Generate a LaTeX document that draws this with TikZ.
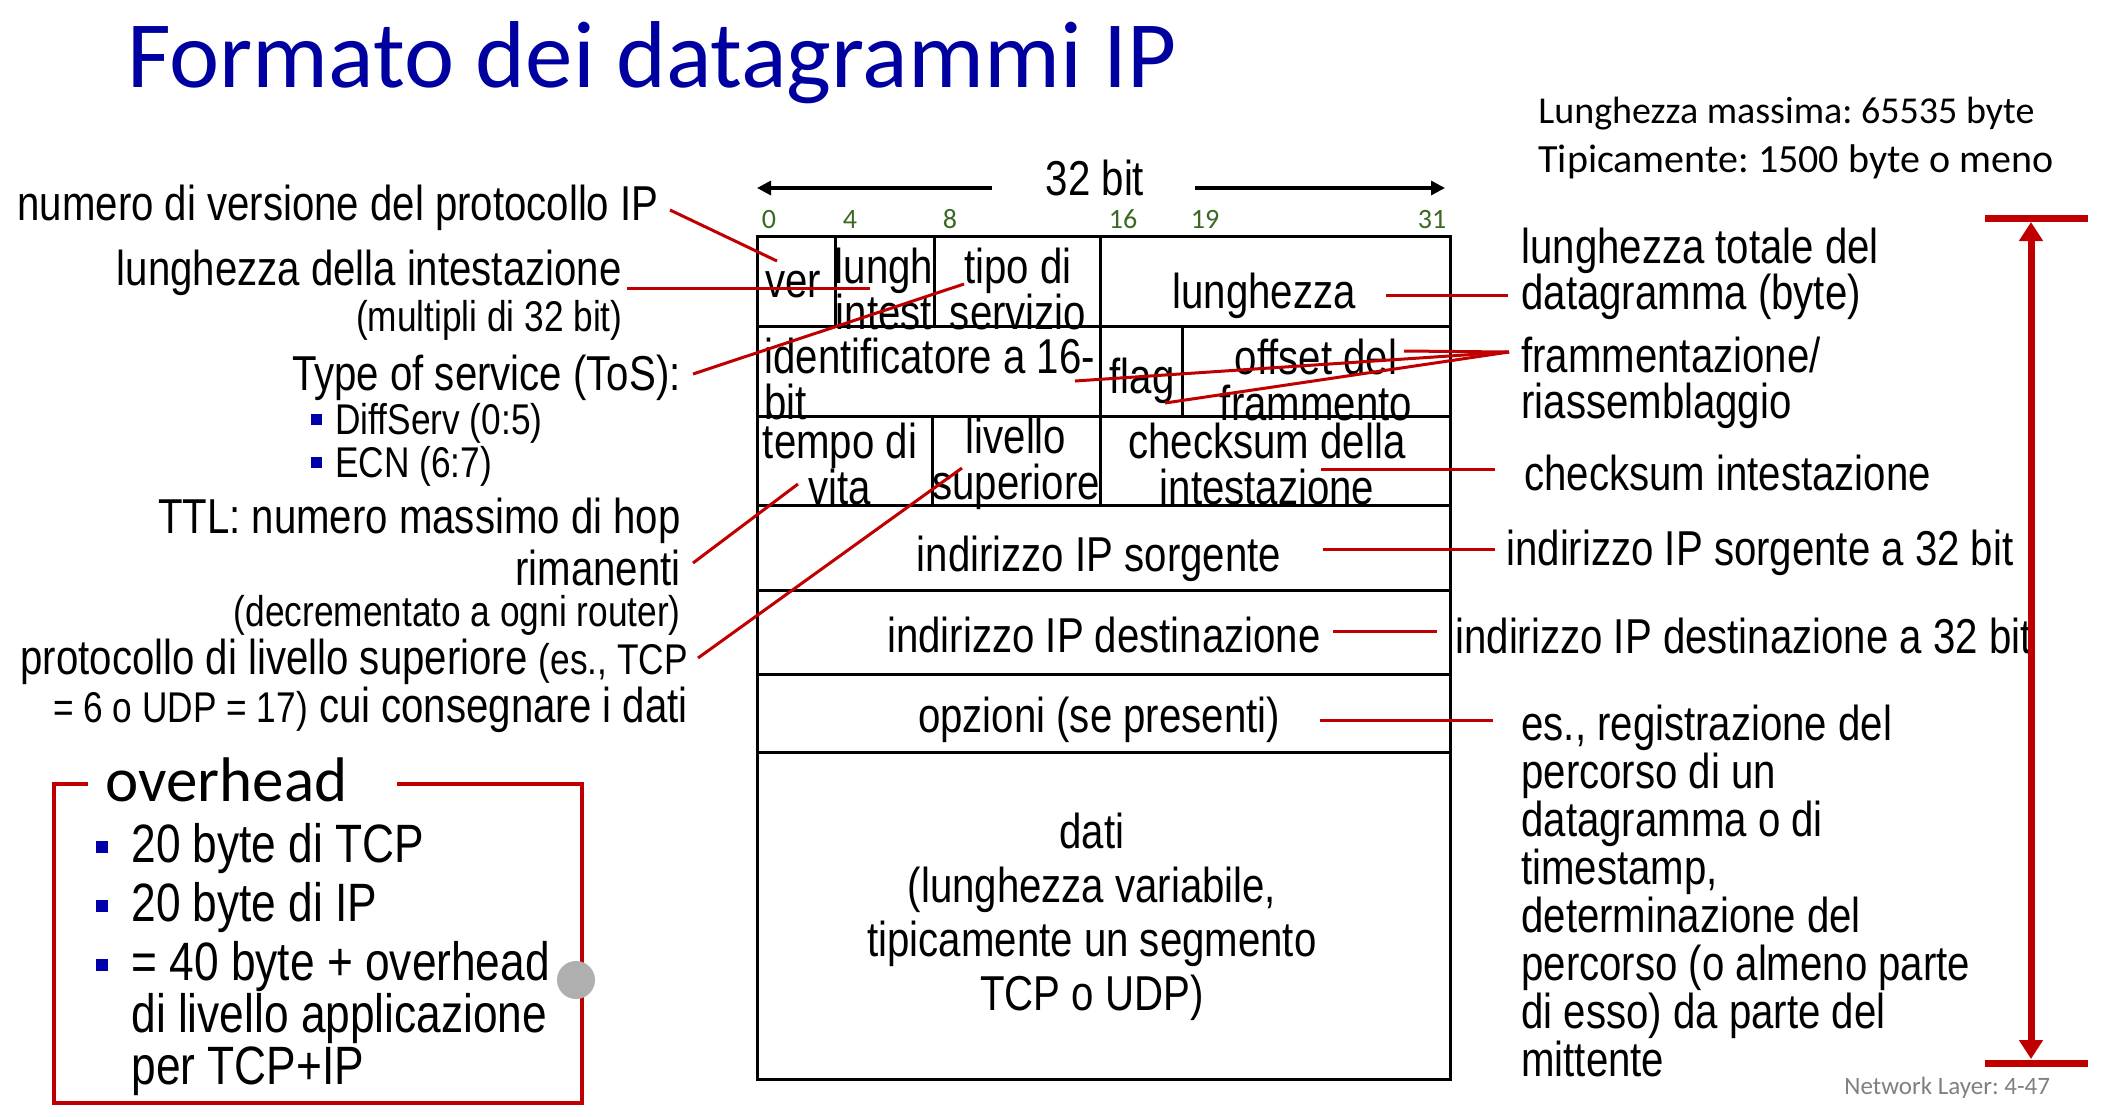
\documentclass[tikz,border=0pt]{standalone}
\usepackage{fontspec}
\usetikzlibrary{arrows.meta}
\newfontfamily\narrowfont[FakeStretch=0.82]{Liberation Sans}
\newfontfamily\slidefont{Carlito}
\newcommand\lblsmall{\fontsize{21.5}{23.5}\selectfont}
\frenchspacing
\definecolor{slidered}{RGB}{192,0,0}
\definecolor{titleblue}{RGB}{0,0,160}
\definecolor{bulletblue}{RGB}{0,0,170}
\definecolor{bitgreen}{RGB}{59,104,35}
\definecolor{footgray}{RGB}{128,128,128}
\definecolor{dotgray}{RGB}{175,175,175}
\tikzset{
  lbl/.style={inner sep=0pt, yshift=-2pt, font=\narrowfont\fontsize{24.5}{23}\selectfont},
  slbl/.style={inner sep=0pt, yshift=-2pt, font=\narrowfont\fontsize{21.5}{23.5}\selectfont},
  biglbl/.style={inner sep=0pt, yshift=-1pt, font=\narrowfont\fontsize{27}{26}\selectfont},
  bitnum/.style={inner sep=0pt, font=\slidefont\fontsize{14}{14}\selectfont, text=bitgreen},
  tbl/.style={draw=black, line width=1.5pt},
  pointer/.style={draw=slidered, line width=1.5pt},
  sqbullet/.style={fill=bulletblue, inner sep=0pt, minimum size=5.5pt},
  bigsq/.style={fill=bulletblue, inner sep=0pt, minimum size=6pt},
  widthpointer/.style={draw=black, line width=1.6pt, -{Triangle[width=7pt,length=7pt]}},
  span/.style={draw=slidered, line width=3.5pt},
}
\begin{document}
\begin{tikzpicture}[x=0.5pt,y=-0.5pt]
\useasboundingbox (0,0) rectangle (2101,1116);

% heading and size notes
\node[anchor=base west, inner sep=0pt, font=\slidefont\fontsize{47.5}{48}\selectfont, text=titleblue]
  (title) at (127,87) {Formato dei datagrammi IP};
\node[anchor=base west, inner sep=0pt, font=\slidefont\fontsize{19}{19}\selectfont]
  (maxlen) at (1538,123) {Lunghezza massima: 65535 byte};
\node[anchor=base west, inner sep=0pt, font=\slidefont\fontsize{20}{20}\selectfont]
  (typlen) at (1538,172) {Tipicamente: 1500 byte o meno};

% word width
\node[lbl] (wbits) at (1095,174) {32 bit};
\coordinate (wl0) at (992,188);
\coordinate (wl1) at (757,188);
\coordinate (wr0) at (1195,188);
\coordinate (wr1) at (1445,188);
\draw[widthpointer] (wl0) -- (wl1);
\draw[widthpointer] (wr0) -- (wr1);

% bit offsets
\node[bitnum] (bit0) at (769,219) {0};
\node[bitnum] (bit4) at (850,219) {4};
\node[bitnum] (bit8) at (950,219) {8};
\node[bitnum] (bit16) at (1123,219) {16};
\node[bitnum] (bit19) at (1205,219) {19};
\node[bitnum] (bit31) at (1432,219) {31};

% header grid
\draw[tbl] (757,236) rectangle (1450,1079);
\foreach \yy in {326,416,505,590,674,752} \draw[tbl] (757,\yy) -- (1450,\yy);
\draw[tbl] (835,236) -- (835,326);
\draw[tbl] (934,236) -- (934,326);
\draw[tbl] (1100,236) -- (1100,505);
\draw[tbl] (1182,326) -- (1182,416);
\draw[tbl] (932,416) -- (932,505);

% field names
\node[lbl] (fver) at (793,281) {ver};
\node[lbl, align=center] (fihl) at (884,285) {lungh\\intest};
\node[lbl, align=center] (ftos) at (1018,285) {tipo di\\servizio};
\node[lbl] (flen) at (1264,292) {lunghezza};
\node[lbl, align=left, anchor=west] (fid) at (764,375) {identificatore a 16-\\bit};
\node[lbl] (fflag) at (1142,377) {flag};
\node[lbl, align=center] (foff) at (1316,376) {offset del\\frammento};
\node[lbl, align=center] (fttl) at (840,460) {tempo di\\vita};
\node[lbl, align=center] (fproto) at (1016,460) {livello\\superiore};
\node[lbl, align=center] (fcks) at (1267,460) {checksum della\\intestazione};
\node[lbl] (fsrc) at (1099,555) {indirizzo IP sorgente};
\node[lbl] (fdst) at (1104,631) {indirizzo IP destinazione};
\node[lbl] (fopt) at (1099,716) {opzioni (se presenti)};
\node[lbl, align=center, font=\narrowfont\fontsize{24.5}{27}\selectfont] (fdata) at (1092,913)
  {dati\\(lunghezza variabile,\\tipicamente un segmento\\TCP o UDP)};

% notes on the left
\node[lbl, anchor=east] (nver) at (659,204) {numero di versione del protocollo IP};
\node[lbl, anchor=east] (nihl) at (622,269) {lunghezza della intestazione};
\node[slbl, anchor=east] (nihl2) at (623,316) {(multipli di 32 bit)};
\node[lbl, anchor=east] (ntos) at (681,374) {Type of service (ToS):};
\node[sqbullet] (ntosb1) at (316,419) {};
\node[slbl, anchor=west] (ntos1) at (335,419) {DiffServ (0:5)};
\node[sqbullet] (ntosb2) at (316,462) {};
\node[slbl, anchor=west] (ntos2) at (335,462) {ECN (6:7)};
\node[lbl, anchor=east] (nttl) at (681,517) {TTL: numero massimo di hop};
\node[lbl, anchor=east] (nttl2) at (681,564) {rimanenti};
\node[slbl, anchor=east] (nttl3) at (681,611) {(decrementato a ogni router)};
\node[lbl, anchor=east] (nproto) at (688,658) {protocollo di livello superiore {\lblsmall(es., TCP}};
\node[lbl, anchor=east] (nproto2) at (688,706) {{\lblsmall= 6 o UDP = 17)} cui consegnare i dati};

% notes on the right
\node[lbl, anchor=west, align=left] (nlen) at (1521,270) {lunghezza totale del\\datagramma (byte)};
\node[lbl, anchor=west, align=left] (nfrag) at (1521,379) {frammentazione/\\riassemblaggio};
\node[lbl, anchor=west] (ncks) at (1524,469) {checksum intestazione};
\node[lbl, anchor=west] (nsrc) at (1506,549) {indirizzo IP sorgente a 32 bit};
\node[lbl, anchor=west] (ndst) at (1455,632) {indirizzo IP destinazione a 32 bit};
\node[lbl, anchor=west, align=left, font=\narrowfont\fontsize{24.5}{24}\selectfont] (nopt) at (1521,887)
  {es., registrazione del\\percorso di un\\datagramma o di\\timestamp,\\determinazione del\\percorso (o almeno parte\\di esso) da parte del\\mittente};

% pointer ends
\coordinate (pver0) at (670,210);   \coordinate (pver1) at (777,261);
\coordinate (pihl0) at (627,288);   \coordinate (pihl1) at (870,288);
\coordinate (ptos0) at (693,374);   \coordinate (ptos1) at (964,284);
\coordinate (pttl0) at (693,563);   \coordinate (pttl1) at (798,484);
\coordinate (ppro0) at (698,658);   \coordinate (ppro1) at (962,468);
\coordinate (plen0) at (1386,295);  \coordinate (plen1) at (1508,295);
\coordinate (pfrag) at (1509,352);
\coordinate (pfoff) at (1404,351);
\coordinate (pfid) at (1075,381);
\coordinate (pfflag) at (1165,403);
\coordinate (pcks0) at (1321,469);  \coordinate (pcks1) at (1495,469);
\coordinate (psrc0) at (1323,549);  \coordinate (psrc1) at (1495,549);
\coordinate (pdst0) at (1333,631);  \coordinate (pdst1) at (1437,631);
\coordinate (popt0) at (1320,720);  \coordinate (popt1) at (1493,720);

\draw[pointer] (pver0) -- (pver1);
\draw[pointer] (pihl0) -- (pihl1);
\draw[pointer] (ptos0) -- (ptos1);
\draw[pointer] (pttl0) -- (pttl1);
\draw[pointer] (ppro0) -- (ppro1);
\draw[pointer] (plen0) -- (plen1);
\draw[pointer] (pfoff) -- (pfrag);
\draw[pointer] (pfid) -- (pfrag);
\draw[pointer] (pfflag) -- (pfrag);
\draw[pointer] (pcks0) -- (pcks1);
\draw[pointer] (psrc0) -- (psrc1);
\draw[pointer] (pdst0) -- (pdst1);
\draw[pointer] (popt0) -- (popt1);

% overall length marker
\coordinate (spTL) at (1985,218); \coordinate (spTR) at (2088,218);
\coordinate (spBL) at (1985,1063); \coordinate (spBR) at (2088,1063);
\coordinate (spT) at (2031,222); \coordinate (spB) at (2031,1059);
\draw[span] (spTL) -- (spTR);
\draw[span] (spBL) -- (spBR);
\draw[span, {Triangle[width=11.5pt,length=9.5pt]}-{Triangle[width=11.5pt,length=9.5pt]}] (spT) -- (spB);

% overhead box
\coordinate (ohA) at (88,784);
\coordinate (ohB) at (54,784);
\coordinate (ohC) at (54,1103);
\coordinate (ohD) at (582,1103);
\coordinate (ohE) at (582,784);
\coordinate (ohF) at (397,784);
\draw[draw=slidered, line width=2pt, line join=miter] (ohA) -- (ohB) -- (ohC) -- (ohD) -- (ohE) -- (ohF);
\node[anchor=base west, inner sep=0pt, font=\slidefont\fontsize{31.5}{31.5}\selectfont] (ohtitle) at (105,801) {overhead};
\node[bigsq] (ohb1) at (102,847) {};
\node[biglbl, anchor=west] (oh1) at (131,847) {20 byte di TCP};
\node[bigsq] (ohb2) at (102,906) {};
\node[biglbl, anchor=west] (oh2) at (131,906) {20 byte di IP};
\node[bigsq] (ohb3) at (102,965) {};
\node[biglbl, anchor=west, align=left] (oh3) at (131,1017) {= 40 byte + overhead\\di livello applicazione\\per TCP+IP};
\node[circle, fill=dotgray, inner sep=0pt, minimum size=19pt] (dot) at (576,980) {};

% page footer
\node[anchor=west, inner sep=0pt, font=\slidefont\fontsize{12.5}{12.5}\selectfont, text=footgray] (foot) at (1844,1088) {Network Layer: 4-47};
\end{tikzpicture}
\end{document}
